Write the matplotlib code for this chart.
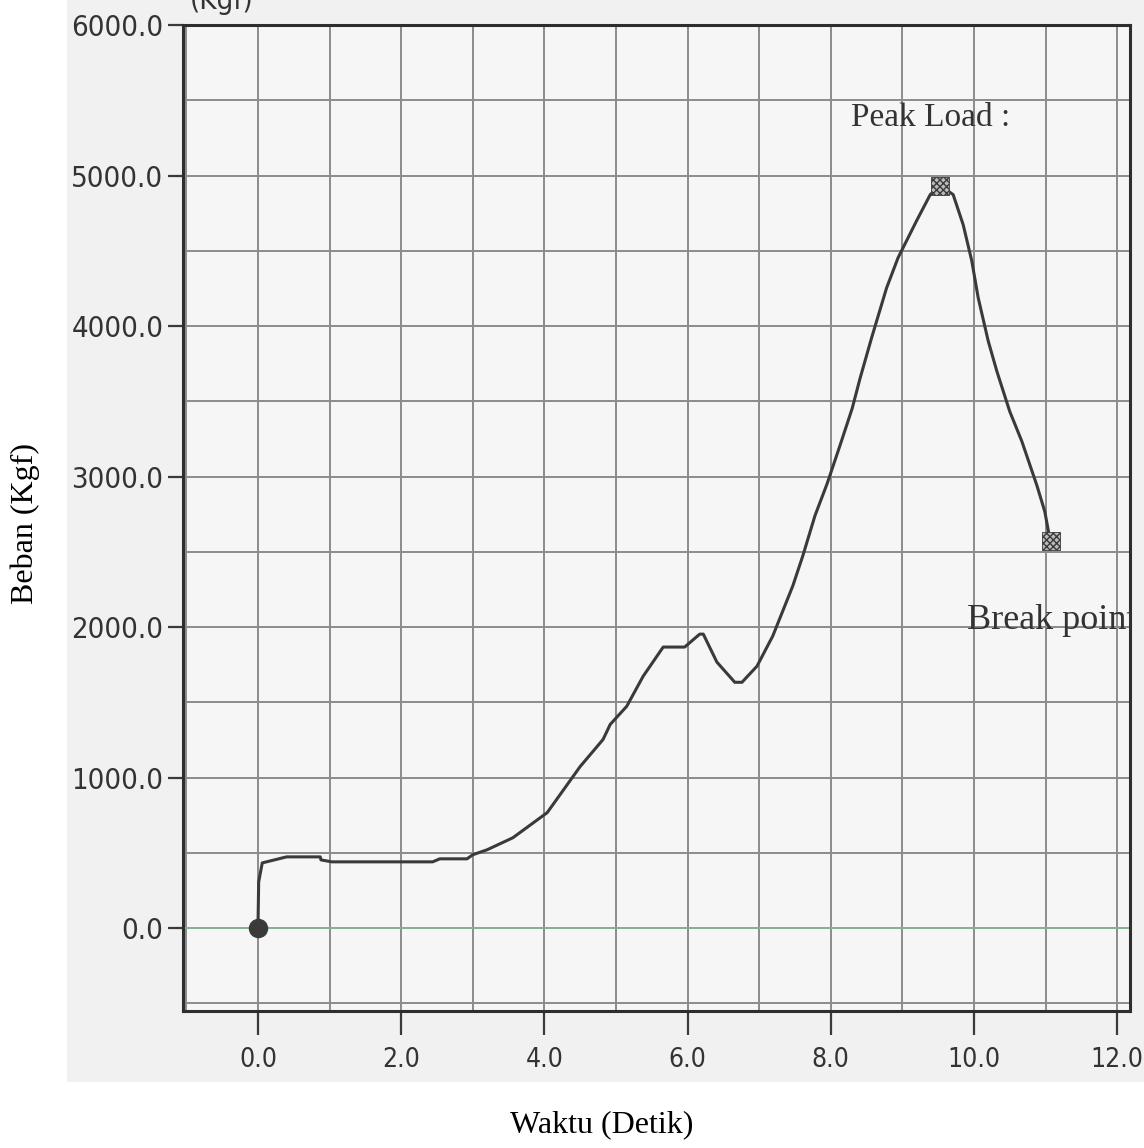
# imports

import matplotlib
matplotlib.use('Agg')
import matplotlib.pyplot as plt
from matplotlib.patches import Rectangle
from matplotlib.ticker import MultipleLocator

# data
time = [0.0, 0.01, 0.06, 0.4, 0.87, 0.88, 1.03, 2.44, 2.54, 2.92, 3.0, 3.2,
        3.56, 4.04, 4.5, 4.82, 4.92, 5.15, 5.38, 5.66, 5.96, 6.17, 6.22, 6.41,
        6.66, 6.76, 6.97, 7.19, 7.47, 7.61, 7.78, 7.95, 8.13, 8.30, 8.41, 8.57,
        8.78, 8.94, 9.2, 9.39, 9.53, 9.71, 9.85, 9.97, 10.06, 10.2, 10.32,
        10.5, 10.67, 10.88, 10.99, 11.06, 11.08]
load = [0, 307, 433, 473, 473, 453, 440, 440, 460, 460, 487, 520,
        600, 767, 1073, 1253, 1353, 1473, 1673, 1867, 1867, 1953, 1953, 1767,
        1633, 1633, 1740, 1940, 2273, 2473, 2740, 2953, 3207, 3453, 3653, 3920,
        4253, 4453, 4700, 4873, 4933, 4873, 4673, 4433, 4187, 3900, 3700,
        3433, 3233, 2940, 2767, 2587, 2573]

start_pt = (0.0, 0.0)
peak_pt = (9.53, 4933)
break_pt = (11.08, 2573)

xticks = [0.0, 2.0, 4.0, 6.0, 8.0, 10.0, 12.0]
yticks = [0.0, 1000.0, 2000.0, 3000.0, 4000.0, 5000.0, 6000.0]

Params = {'font.family': 'DejaVu Sans',
          'font.stretch': 'condensed'}
plt.rcParams.update(Params)

ink = '#3a3a3a'
gridc = '#8c8c8c'
scan = '#f1f1f1'

fig = plt.figure(figsize=(11.44, 11.48), dpi=100)
fig.patch.set_facecolor('white')
# grey scanned sheet behind the chart
fig.patches.append(Rectangle((67 / 1144, 1 - 1082 / 1148), 1, 1082 / 1148,
                             transform=fig.transFigure, facecolor=scan,
                             edgecolor='none', zorder=-10))

ax = fig.add_axes([183 / 1144, 1 - 1011 / 1148, (1130 - 183) / 1144, (1011 - 25) / 1148])
ax.set_facecolor('#f6f6f6')
ax.set_xlim(-1.047, 12.18)
ax.set_ylim(-551, 6000)

ax.set_xticks(xticks)
ax.set_xticklabels(['%.1f' % v for v in xticks])
ax.set_yticks(yticks)
ax.set_yticklabels(['%.1f' % v for v in yticks])
ax.xaxis.set_minor_locator(MultipleLocator(1.0))
ax.yaxis.set_minor_locator(MultipleLocator(500))
ax.tick_params(axis='x', which='major', direction='out', length=17, width=1.6,
               color=ink, pad=9, labelsize=19, labelcolor='#333333')
ax.tick_params(axis='y', which='major', direction='out', length=11, width=1.6,
               color=ink, pad=3, labelsize=21, labelcolor='#333333')
ax.tick_params(which='minor', length=0)
ax.grid(True, which='both', color=gridc, linewidth=1.4)
ax.axhline(0, color='#86b292', linewidth=1.4, zorder=1.5)
ax.set_axisbelow(True)

for s in ax.spines.values():
    s.set_color('#2e2e2e')
    s.set_linewidth(2.2)

ax.plot(time, load, color=ink, linewidth=2.2, zorder=3)
ax.plot(*start_pt, marker='o', markersize=13, color=ink, zorder=4)
ax.scatter([peak_pt[0], break_pt[0]], [peak_pt[1], break_pt[1]], marker='s', s=170,
           facecolor='#bbbbbb', edgecolor='#3a3a3a', hatch='xxxxx', linewidth=0.6, zorder=4)

ax.text(8.28, 5382, 'Peak Load :', family='Liberation Serif', fontstretch='normal',
        fontsize=24, color='#333333', ha='left', va='center')
ax.text(9.9, 2046, 'Break point', family='Liberation Serif', fontstretch='normal',
        fontsize=26, color='#333333', ha='left', va='center', clip_on=True)

# unit label cut off by the top of the scan
fig.text(222 / 1144, 1 - 1 / 1148, '(Kgf)', fontsize=21, color='#333333',
         ha='center', va='center')

fig.text(602 / 1144, 1 - 1125 / 1148, 'Waktu (Detik)', family='Liberation Serif',
         fontstretch='normal', fontsize=23, ha='center', va='center')
fig.text(25 / 1144, 1 - 523 / 1148, 'Beban (Kgf)', family='Liberation Serif',
         fontstretch='normal', fontsize=23, ha='center', va='center', rotation=90)

plt.savefig('out.png', dpi=100)
